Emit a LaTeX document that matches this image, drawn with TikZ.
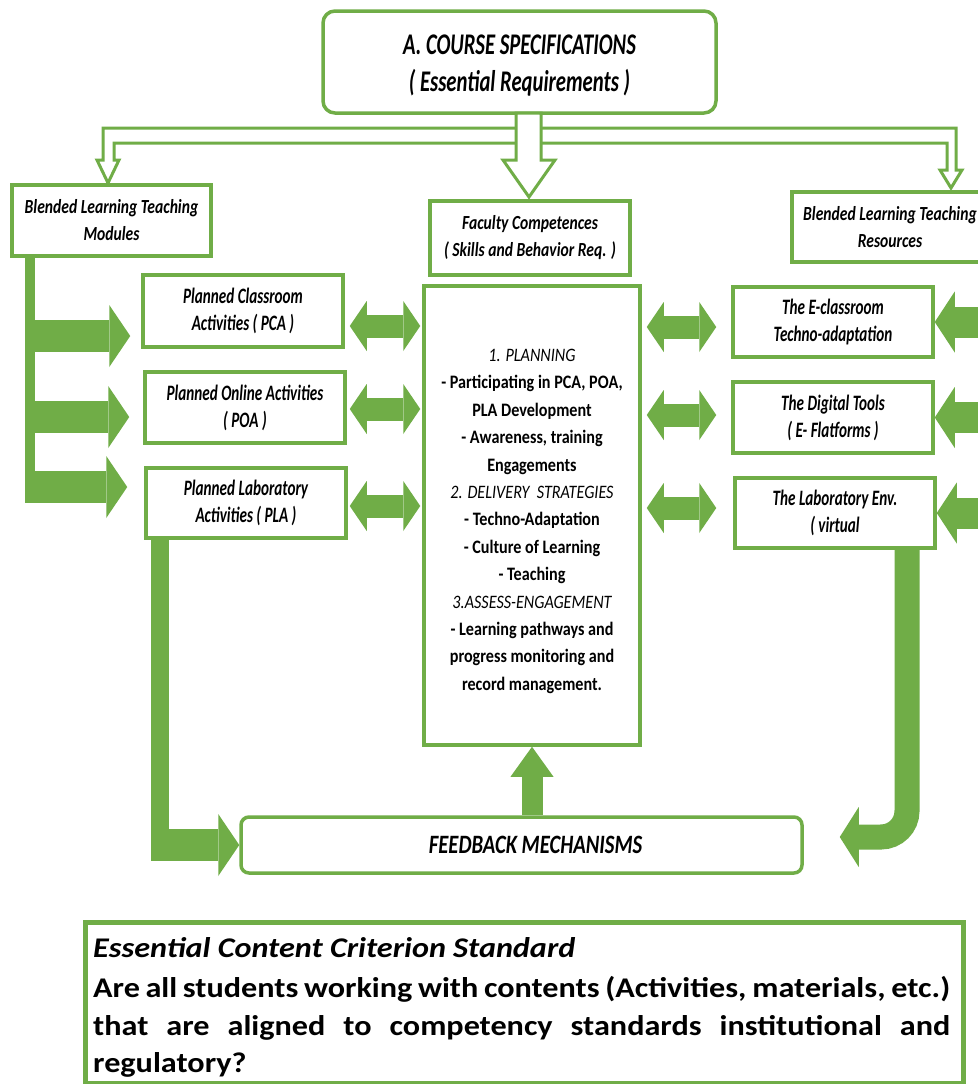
\documentclass[tikz,border=0pt]{standalone}
\usepackage{fontspec}
\setmainfont{Carlito}
\newfontfamily\boxfont{Carlito}[FakeStretch=0.69]
\newfontfamily\labelfont{Carlito}[FakeStretch=0.78]
\newfontfamily\bodyfont{Carlito}[FakeStretch=0.85]
\newfontfamily\notefont{Carlito}[FakeStretch=1.13]
\usetikzlibrary{arrows.meta,calc}
\definecolor{leafgreen}{HTML}{70AD47}

\begin{document}
\begin{tikzpicture}[x=1pt, y=-1pt,
    box/.style={draw=leafgreen, line width=3.5pt, fill=white, align=center, inner sep=2pt,
      font=\boxfont\bfseries\itshape\fontsize{22}{27}\selectfont},
    smallbox/.style={box, font=\labelfont\bfseries\itshape\fontsize{20}{27}\selectfont},
    noteline/.style={anchor=base west, inner sep=0pt,
      font=\notefont\bfseries\fontsize{28.5}{38}\selectfont},
    fatarrow/.style={draw=leafgreen, line width=32pt,
      -{Triangle[length=21pt, width=62pt, line width=0pt]}},
    dblarrow/.style={draw=leafgreen, line width=23pt,
      {Triangle[length=17pt, width=50pt, line width=0pt]}-{Triangle[length=17pt, width=50pt, line width=0pt]}},
    inarrow/.style={draw=leafgreen, line width=31pt,
      -{Triangle[length=20pt, width=61pt, line width=0pt]}},
    uparrow/.style={draw=leafgreen, line width=21pt,
      -{Triangle[length=30pt, width=43pt, line width=0pt]}},
    hollow/.style={draw=leafgreen, line width=3pt, fill=white, line join=miter}]

  \useasboundingbox[fill=white] (0,0) rectangle (977,1084);

  % top block
  \node[box, rounded corners=12, minimum width=393, minimum height=102,
    font=\boxfont\bfseries\itshape\fontsize{30}{37}\selectfont] (course) at (519.5,62)
    {\rule{0pt}{26pt}A. COURSE SPECIFICATIONS\\( Essential Requirements )};

  % hollow branches from the top block
  \draw[hollow] (103,128) -- (956,128) -- (956,170) -- (962,170) -- (951,188) -- (940,170)
    -- (947,170) -- (947,143) -- (114,143) -- (114,160) -- (119,160) -- (108,183)
    -- (97,160) -- (103,160) -- cycle;
  \draw[hollow] (516,113) -- (541,113) -- (541,160) -- (555,160) -- (529,197)
    -- (503,160) -- (516,160) -- cycle;

  % second row
  \node[smallbox, minimum width=199, minimum height=71] (modules) at (111.5,220.5)
    {Blended Learning Teaching\\Modules};
  \node[smallbox, minimum width=200, minimum height=74] (faculty) at (530,238)
    {Faculty Competences\\( Skills and Behavior Req. )};
  \node[smallbox, minimum width=196, minimum height=70] (resources) at (890,227)
    {Blended Learning Teaching\\Resources};

  % left column
  \node[box, minimum width=200, minimum height=72] (pca) at (243,311)
    {Planned Classroom\\Activities ( PCA )};
  \node[box, minimum width=200, minimum height=71] (poa) at (245,407.5)
    {Planned Online Activities\\( POA )};
  \node[box, minimum width=200, minimum height=70] (pla) at (246,503)
    {Planned Laboratory\\Activities ( PLA )};

  % centre column
  \node[box, minimum width=216, minimum height=459,
    font=\bodyfont\bfseries\fontsize{19}{27.4}\selectfont] (plan) at (532,515.5)
    {\rule{0pt}{24pt}{\mdseries\itshape 1. PLANNING}\\
     - Participating in PCA, POA,\\
     PLA Development\\
     - Awareness, training\\
     Engagements\\
     {\mdseries\itshape 2. DELIVERY\ \ STRATEGIES}\\
     - Techno-Adaptation\\
     - Culture of Learning\\
     - Teaching\\
     {\mdseries\itshape 3.ASSESS-ENGAGEMENT}\\
     - Learning pathways and\\
     progress monitoring and\\
     record management.};

  % right column
  \node[box, minimum width=200, minimum height=70] (eclass) at (833,322)
    {The E-classroom\\Techno-adaptation};
  \node[box, minimum width=200, minimum height=71] (digital) at (833,417.5)
    {The Digital Tools\\( E- Flatforms )};
  \node[box, minimum width=200, minimum height=70] (labenv) at (835,513)
    {The Laboratory Env.\\( virtual};

  % feedback
  \node[box, rounded corners=8, minimum width=561, minimum height=56,
    font=\labelfont\bfseries\itshape\fontsize{26.5}{30}\selectfont] (feedback) at (521.5,845)
    {\hspace*{28pt}FEEDBACK MECHANISMS};

  % left spine and arrows
  \draw[leafgreen, line width=10pt] (modules.south -| 30,0) -- (30,503);
  \draw[fatarrow] (30,336) -- ($(pca.west)+(-11,25)$);
  \draw[fatarrow] (30,417) -- ($(poa.west)+(-14,9.5)$);
  \draw[fatarrow] (30,487) -- ($(pla.west)+(-17,-16)$);

  % two-way arrows
  \draw[dblarrow] ($(pca.east)+(5,15)$) -- ($(plan.west |- pca.east)+(-2,15)$);
  \draw[dblarrow] ($(poa.east)+(3,1.5)$) -- ($(plan.west |- poa.east)+(-2,1.5)$);
  \draw[dblarrow] ($(pla.east)+(2,3)$) -- ($(plan.west |- pla.east)+(-2,3)$);
  \draw[dblarrow] ($(plan.east |- eclass.west)+(5,5)$) -- ($(eclass.west)+(-15,5)$);
  \draw[dblarrow] ($(plan.east |- digital.west)+(5,-2.5)$) -- ($(digital.west)+(-15,-2.5)$);
  \draw[dblarrow] ($(plan.east |- labenv.west)+(5,-5)$) -- ($(labenv.west)+(-17,-5)$);

  % arrows from the right edge
  \draw[inarrow] (eclass.east -| 995,0) -- (eclass.east);
  \draw[inarrow] (digital.east -| 995,0) -- (digital.east);
  \draw[inarrow] (labenv.east -| 995,0) -- (labenv.east);

  % towards the feedback block
  \draw[leafgreen, line width=18pt] (pla.south -| 160,0) -- (160,861);
  \draw[fatarrow] (151,845) -- (feedback.west);
  \coordinate (fbin) at ($(feedback.east)+(36,-8)$);
  \draw[draw=leafgreen, line width=25pt, rounded corners=26,
    -{Triangle[length=19pt, width=60pt, line width=0pt]}]
    (labenv.south -| 907,0) -- (907,837) -- (fbin);
  \draw[uparrow] (feedback.north -| plan.south) -- (plan.south);

  % criterion note
  \node[draw=leafgreen, line width=5pt, minimum width=878, minimum height=161] (note)
    at (524,1002.5) {};
  \node[noteline] (notehead) at (93,957) {\textit{Essential Content Criterion Standard}};
  \node[noteline] (noteone) at (93,997)
    {\makebox[857pt][s]{Are all students working with contents (Activities, materials, etc.)}};
  \node[noteline] (notetwo) at (93,1035)
    {\makebox[857pt][s]{that are aligned to competency standards institutional and}};
  \node[noteline] (notethree) at (93,1072) {regulatory?};
\end{tikzpicture}
\end{document}
